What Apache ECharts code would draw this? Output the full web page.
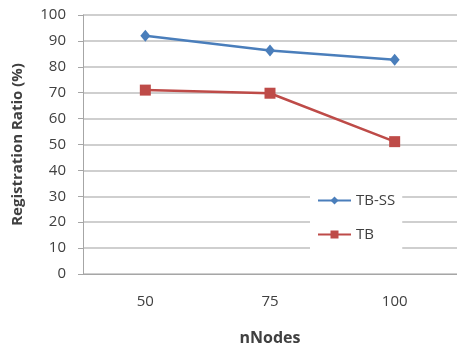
<!DOCTYPE html>
<html>
<head>
<meta charset="utf-8">
<script src="https://cdn.jsdelivr.net/npm/echarts@6/dist/echarts.min.js"></script>
<style>
  html, body { margin: 0; padding: 0; background: #fff; }
  #chart { width: 457px; height: 348px; }
</style>
</head>
<body>
<div id="chart"></div>
<script>
// values
var nodes = ["50", "75", "100"];
var tbSS = [92, 86.3, 82.7];
var tb = [71, 69.8, 51.1];

var chart = echarts.init(document.getElementById("chart"));
var font = "'Open Sans', 'Liberation Sans', sans-serif";
var txt = "#404040";

var option = {
  animation: false,
  grid: { left: 83, right: 0, top: 15, bottom: 74, outerBoundsMode: "none" },
  legend: {
    orient: "vertical",
    left: 310,
    top: 181,
    itemWidth: 33,
    itemHeight: 10,
    itemGap: 19,
    padding: [12, 7, 8, 7],
    backgroundColor: "#fff",
    textStyle: { color: txt, fontFamily: font, fontSize: 15 },
    data: ["TB-SS", "TB"]
  },
  xAxis: {
    type: "category",
    data: nodes,
    name: "nNodes",
    nameLocation: "middle",
    nameGap: 56,
    nameTextStyle: { color: txt, fontFamily: font, fontSize: 16, fontWeight: "bold" },
    axisLine: { lineStyle: { color: "#a6a6a6" } },
    axisTick: { alignWithLabel: true, length: 4, lineStyle: { color: "#a6a6a6" } },
    axisLabel: { color: txt, fontFamily: font, fontSize: 15, margin: 20 }
  },
  yAxis: {
    type: "value",
    min: 0,
    max: 100,
    interval: 10,
    name: "Registration Ratio (%)",
    nameLocation: "middle",
    nameGap: 58,
    nameTextStyle: { color: txt, fontFamily: font, fontSize: 15, fontWeight: "bold" },
    axisLine: { show: true, lineStyle: { color: "#a6a6a6" } },
    axisTick: { show: true, length: 5, lineStyle: { color: "#a6a6a6" } },
    axisLabel: { color: txt, fontFamily: font, fontSize: 15, margin: 17 },
    splitLine: { lineStyle: { color: "#bfbfbf", width: 1.5 } }
  },
  series: [
    {
      name: "TB-SS",
      type: "line",
      data: tbSS,
      symbol: "diamond",
      symbolSize: [10, 12],
      itemStyle: { color: "#4a7ebb" },
      lineStyle: { color: "#4a7ebb", width: 2.5 }
    },
    {
      name: "TB",
      type: "line",
      data: tb,
      symbol: "rect",
      symbolSize: 11,
      itemStyle: { color: "#be4b48" },
      lineStyle: { color: "#be4b48", width: 2.5 }
    }
  ]
};

chart.setOption(option);
</script>
</body>
</html>
